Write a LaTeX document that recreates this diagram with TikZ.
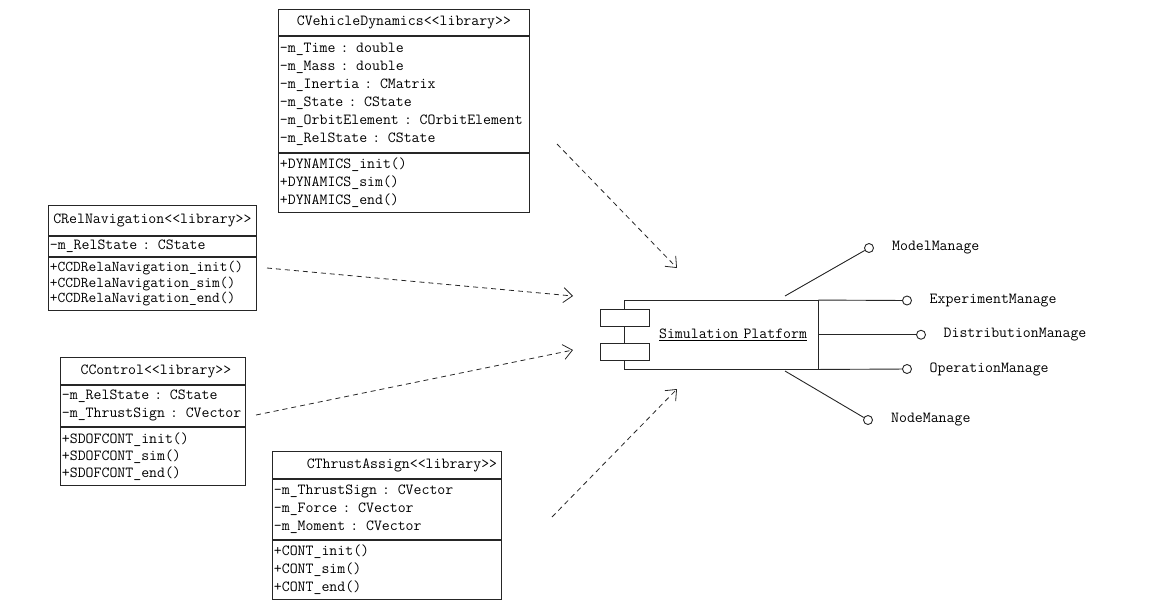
\documentclass[tikz,border=0pt]{standalone}
\usepackage{fontspec}
\usetikzlibrary{positioning,arrows.meta}

\tikzset{
  every node/.style={font=\ttfamily\fontsize{15.4}{18}\selectfont, text=black},
  classhead/.style 2 args={draw=black!85, line width=0.9pt, minimum width=#1, minimum height=#2, inner sep=0pt},
  classbody/.style 2 args={draw=black!85, line width=0.9pt, text width=#1, minimum height=#2, inner xsep=1.5pt, inner ysep=0pt, align=left},
  portbox/.style={draw=black!85, line width=0.9pt, fill=white, minimum width=49pt, minimum height=17pt, inner sep=0pt},
  iface/.style={draw=black!85, line width=0.9pt, circle, fill=white, minimum size=9pt, inner sep=0pt},
  ifacelabel/.style={inner sep=0pt, anchor=west},
  dep/.style={-{Straight Barb[length=9pt,width=15pt]}, dash pattern=on 5pt off 4pt, line width=0.8pt, black!85},
  wire/.style={line width=0.9pt, black!85}
}

\begin{document}
\begin{tikzpicture}[x=1pt,y=-1pt]
    \useasboundingbox (0,0) rectangle (1161,606);

    % CVehicleDynamics
    \node[classhead={251pt}{26pt}, anchor=north west] (dyn-title) at (278,9) {CVehicleDynamics<<library>>};
    \node[classbody={248pt}{116pt}, below=0pt of dyn-title] (dyn-attr)
        {-m\_Time : double\\-m\_Mass : double\\-m\_Inertia : CMatrix\\-m\_State : CState\\-m\_OrbitElement : COrbitElement\\-m\_RelState : CState};
    \node[classbody={248pt}{59pt}, below=0pt of dyn-attr] (dyn-ops)
        {+DYNAMICS\_init()\\+DYNAMICS\_sim()\\+DYNAMICS\_end()};

    % CRelNavigation
    \node[classhead={208pt}{30pt}, anchor=north west] (nav-title) at (48,205) {CRelNavigation<<library>>};
    \node[classbody={205pt}{20pt}, below=0pt of nav-title] (nav-attr)
        {-m\_RelState : CState};
    \node[classbody={205pt}{53pt}, below=0pt of nav-attr, font=\ttfamily\fontsize{15}{15.5}\selectfont] (nav-ops)
        {+CCDRelaNavigation\_init()\\+CCDRelaNavigation\_sim()\\+CCDRelaNavigation\_end()};

    % CControl
    \node[classhead={185pt}{27pt}, anchor=north west] (ctl-title) at (60,357) {\hspace*{6pt}CControl<<library>>};
    \node[classbody={182pt}{41pt}, below=0pt of ctl-title] (ctl-attr)
        {-m\_RelState : CState\\-m\_ThrustSign : CVector};
    \node[classbody={182pt}{58pt}, below=0pt of ctl-attr, font=\ttfamily\fontsize{15.4}{17}\selectfont] (ctl-ops)
        {+SDOFCONT\_init()\\+SDOFCONT\_sim()\\+SDOFCONT\_end()};

    % CThrustAssign
    \node[classhead={229pt}{27pt}, anchor=north west] (thr-title) at (272,451) {\hspace*{30pt}CThrustAssign<<library>>};
    \node[classbody={226pt}{60pt}, below=0pt of thr-title] (thr-attr)
        {-m\_ThrustSign : CVector\\-m\_Force : CVector\\-m\_Moment : CVector};
    \node[classbody={226pt}{59pt}, below=0pt of thr-attr] (thr-ops)
        {+CONT\_init()\\+CONT\_sim()\\+CONT\_end()};

    % Simulation Platform component
    \node[draw=black!85, line width=0.9pt, minimum width=193.5pt, minimum height=68.5pt,
          inner xsep=11pt, inner ysep=0pt, text width=171.5pt, align=right] (platform) at (721.25,334.75)
        {\underline{Simulation Platform}};
    \node[portbox] (port-a) at (624.5,317.5) {};
    \node[portbox] (port-b) at (624.5,352) {};

    % Provided interfaces
    \node[iface] (model) at (869,248) {};
    \node[iface] (exp) at (907,300.5) {};
    \node[iface] (dist) at (921,334.75) {};
    \node[iface] (oper) at (907,369) {};
    \node[iface] (nodem) at (868,420) {};
    \node[ifacelabel, right=18pt of model] (model-l) {ModelManage};
    \node[ifacelabel, right=17.5pt of exp] (exp-l) {ExperimentManage};
    \node[ifacelabel, right=17.5pt of dist] (dist-l) {DistributionManage};
    \node[ifacelabel, right=17.5pt of oper] (oper-l) {OperationManage};
    \node[ifacelabel, right=18pt of nodem] (nodem-l) {NodeManage};

    \coordinate (model-s) at (785,296);
    \coordinate (nodem-s) at (785,371);
    \draw[wire] (model-s) -- (model);
    \draw[wire] (platform.north east) -- (exp);
    \draw[wire] (platform.east) -- (dist);
    \draw[wire] (platform.south east) -- (oper);
    \draw[wire] (nodem-s) -- (nodem);

    % Dependencies
    \coordinate (dyn-s) at (557,144);
    \coordinate (dyn-t) at (677,268);
    \coordinate (nav-s) at (267,268);
    \coordinate (nav-t) at (573,296);
    \coordinate (ctl-s) at (256,415);
    \coordinate (ctl-t) at (573,350);
    \coordinate (thr-s) at (552,517);
    \coordinate (thr-t) at (677,389);
    \draw[dep] (dyn-s) -- (dyn-t);
    \draw[dep] (nav-s) -- (nav-t);
    \draw[dep] (ctl-s) -- (ctl-t);
    \draw[dep] (thr-s) -- (thr-t);

\end{tikzpicture}
\end{document}
